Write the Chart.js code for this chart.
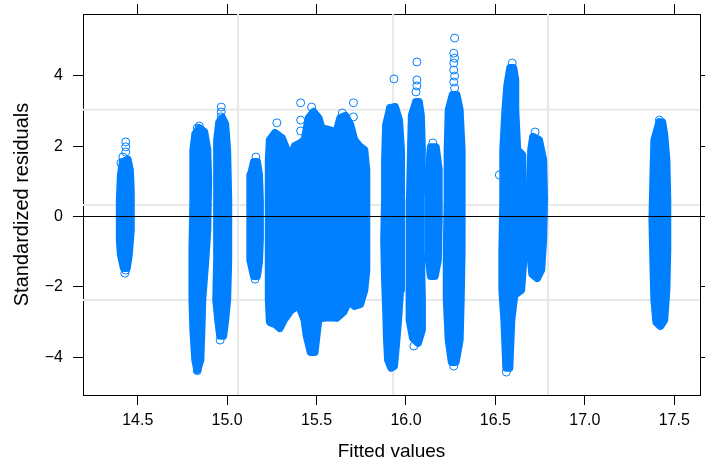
<!DOCTYPE html>
<html>
<head>
<meta charset="utf-8">
<script src="https://cdn.jsdelivr.net/npm/chart.js@4.4.0/dist/chart.umd.min.js"></script>
<style>
  html, body { margin: 0; padding: 0; background: #fff; }
  canvas { display: block; }
</style>
</head>
<body>
<canvas id="chart" width="705" height="463"></canvas>
<script>
// axis ranges and ticks
const fittedRange = [14.194, 17.644];
const residRange = [-5.071, 5.753];
const fittedStep = 0.5;
const residStep = 2;

// light reference grid of the panel
const refFitted = [15.061, 15.928, 16.794];
const refResid = [3.03, 0.33, -2.37];

// each group of fitted values is a dense column of residuals:
// outline of the point cloud (fitted, residual)
const group1 = [[14.417,1.55],[14.406,1.18],[14.400,0.47],[14.400,-0.67],[14.406,-1.09],[14.422,-1.46],[14.439,-1.46],[14.450,-1.09],[14.461,-0.38],[14.461,0.75],[14.456,1.32],[14.444,1.61]];
const group2 = [[14.822,2.34],[14.811,1.89],[14.811,0.47],[14.806,-0.95],[14.806,-2.37],[14.811,-3.22],[14.822,-4.08],[14.833,-4.36],[14.850,-4.08],[14.856,-3.22],[14.861,-2.37],[14.878,-1.24],[14.889,-0.38],[14.894,1.04],[14.889,1.89],[14.872,2.40],[14.844,2.51]];
const group3 = [[14.956,2.68],[14.944,2.17],[14.944,0.47],[14.944,-1.24],[14.939,-2.37],[14.950,-2.94],[14.961,-3.39],[14.978,-3.39],[14.989,-2.94],[15.000,-2.37],[15.006,-1.24],[15.006,0.47],[15.000,1.89],[14.989,2.63],[14.972,2.80]];
const group4 = [[15.150,1.55],[15.133,1.18],[15.128,0.47],[15.128,-0.67],[15.133,-1.24],[15.150,-1.69],[15.167,-1.69],[15.178,-1.29],[15.183,-0.67],[15.183,0.47],[15.178,1.18],[15.167,1.55]];
const group5 = [[15.239,2.17],[15.267,2.37],[15.306,2.23],[15.333,1.89],[15.356,1.61],[15.378,2.00],[15.411,2.09],[15.433,2.17],[15.456,2.80],[15.483,2.97],[15.511,2.80],[15.528,2.51],[15.567,2.46],[15.611,2.40],[15.633,2.80],[15.661,2.86],[15.689,2.60],[15.711,2.17],[15.739,2.00],[15.767,1.89],[15.778,1.32],[15.778,-0.10],[15.778,-1.52],[15.767,-2.09],[15.744,-2.49],[15.711,-2.54],[15.683,-2.37],[15.650,-2.71],[15.611,-2.88],[15.567,-2.86],[15.539,-2.88],[15.511,-2.88],[15.500,-3.37],[15.489,-3.85],[15.467,-3.85],[15.444,-3.37],[15.433,-2.94],[15.400,-2.51],[15.356,-2.66],[15.317,-2.94],[15.294,-3.17],[15.267,-3.05],[15.239,-3.00],[15.233,-2.37],[15.233,-0.95],[15.233,0.47],[15.233,1.61]];
const group6 = [[15.911,3.08],[15.889,2.60],[15.883,1.61],[15.883,0.47],[15.878,-0.67],[15.883,-1.80],[15.889,-2.66],[15.894,-3.51],[15.900,-4.08],[15.917,-4.30],[15.933,-4.25],[15.944,-3.65],[15.956,-2.94],[15.967,-2.09],[15.972,-0.95],[15.972,0.47],[15.972,1.89],[15.961,2.74],[15.939,3.11]];
const group7 = [[16.056,3.25],[16.033,2.88],[16.028,1.89],[16.022,0.47],[16.022,-0.95],[16.017,-2.09],[16.022,-2.94],[16.039,-3.45],[16.067,-3.59],[16.089,-3.22],[16.089,-2.37],[16.083,-0.95],[16.083,0.47],[16.089,1.89],[16.083,2.88],[16.072,3.25]];
const group8 = [[16.139,1.97],[16.128,1.32],[16.128,-0.10],[16.128,-1.24],[16.139,-1.69],[16.161,-1.69],[16.178,-1.24],[16.183,-0.10],[16.183,1.32],[16.167,1.97]];
const group9 = [[16.261,3.45],[16.239,3.03],[16.233,1.89],[16.233,0.47],[16.228,-0.95],[16.228,-2.37],[16.239,-3.51],[16.256,-4.13],[16.278,-4.13],[16.300,-3.51],[16.306,-2.37],[16.311,-0.95],[16.311,0.47],[16.311,1.89],[16.300,3.03],[16.283,3.45]];
const group10 = [[16.583,4.22],[16.567,3.74],[16.556,3.03],[16.544,1.89],[16.544,0.47],[16.539,-0.95],[16.539,-2.09],[16.550,-2.94],[16.556,-3.65],[16.561,-4.30],[16.578,-4.30],[16.583,-3.65],[16.589,-2.94],[16.606,-2.23],[16.644,-2.09],[16.656,-1.24],[16.656,0.47],[16.650,1.75],[16.622,1.89],[16.611,3.03],[16.611,3.88],[16.600,4.22]];
const group11 = [[16.711,2.26],[16.700,1.89],[16.694,0.47],[16.694,-0.95],[16.706,-1.63],[16.733,-1.75],[16.756,-1.52],[16.767,-0.67],[16.772,0.47],[16.767,1.61],[16.744,2.17]];
const group12 = [[17.417,2.68],[17.389,2.17],[17.383,1.04],[17.378,-0.10],[17.383,-1.24],[17.389,-2.37],[17.400,-3.00],[17.422,-3.11],[17.444,-2.94],[17.456,-2.09],[17.461,-0.95],[17.461,0.47],[17.456,1.61],[17.444,2.32],[17.433,2.68]];

const groups = [group1, group2, group3, group4, group5, group6, group7, group8, group9, group10, group11, group12];

// single residuals that stand out at the ends of the columns
const sparseFitted = [14.433,14.433,14.433,14.417,14.406,14.428,14.433, 14.844,14.833,14.833, 14.967,14.967,14.967,14.961, 15.161,15.156,
  15.278,15.411,15.411,15.411,15.472,15.706,15.706,15.644, 15.933, 16.061,16.061,16.061,16.056,16.044, 16.150,
  16.272,16.267,16.272,16.267,16.267,16.272,16.267,16.272,16.267, 16.594,16.522,16.561, 16.722, 17.417,17.428];
const sparseResid = [2.12,1.98,1.83,1.69,1.52,-1.61,-1.52, 2.57,2.51,-4.38, 3.11,2.97,2.83,-3.51, 1.69,-1.78,
  2.66,3.23,2.74,2.43,3.11,3.23,2.83,2.94, 3.91, 4.39,3.88,3.71,3.54,-3.68, 2.09,
  5.07,4.64,4.50,4.36,4.16,3.99,3.82,3.65,-4.25, 4.36,1.18,-4.42, 2.40, 2.74,2.57];

const BLUE = '#0080ff';
const toXY = arr => arr.map(p => ({ x: p[0], y: p[1] }));

const datasets = [];

// zero line on top
datasets.push({
    type: 'line',
    data: [{ x: fittedRange[0], y: 0 }, { x: fittedRange[1], y: 0 }],
    borderColor: '#000', borderWidth: 1, pointRadius: 0, fill: false, order: 0
});

// sparse points
datasets.push({
    type: 'scatter',
    data: sparseFitted.map((x, i) => ({ x: x, y: sparseResid[i] })),
    pointStyle: 'circle',
    pointRadius: 4,
    pointBorderWidth: 1,
    pointBorderColor: BLUE,
    pointBackgroundColor: 'rgba(0,0,0,0)',
    order: 1
});

// dense columns
groups.forEach(g => {
    datasets.push({
        type: 'line',
        data: toXY(g.concat([g[0]])),
        borderColor: BLUE,
        backgroundColor: BLUE,
        borderWidth: 8,
        borderJoinStyle: 'round',
        borderCapStyle: 'round',
        fill: 'shape',
        pointRadius: 0,
        tension: 0,
        order: 2
    });
});

// reference grid
refFitted.forEach(v => {
    datasets.push({
        type: 'line',
        data: [{ x: v, y: residRange[0] }, { x: v, y: residRange[1] }],
        borderColor: '#e8e8e8', borderWidth: 2, pointRadius: 0, fill: false, order: 3
    });
});
refResid.forEach(v => {
    datasets.push({
        type: 'line',
        data: [{ x: fittedRange[0], y: v }, { x: fittedRange[1], y: v }],
        borderColor: '#e8e8e8', borderWidth: 2, pointRadius: 0, fill: false, order: 3
    });
});

const FONT = "'Liberation Sans', Arial, sans-serif";
const tickFont = { family: FONT, size: 16 };
const frame = { display: true, color: '#000', width: 1 };
const outerTicks = { drawOnChartArea: false, drawTicks: true, tickLength: 10, color: '#000', lineWidth: 1 };

// keep the panel box where it is, no extra room for edge labels
function noPadding(s) {
    s.paddingLeft = 0; s.paddingRight = 0; s.paddingTop = 0; s.paddingBottom = 0;
}

const ctx = document.getElementById('chart').getContext('2d');
new Chart(ctx, {
    type: 'scatter',
    data: { datasets: datasets },
    options: {
        responsive: false,
        animation: false,
        layout: { padding: 0 },
        plugins: { legend: { display: false }, tooltip: { enabled: false } },
        scales: {
            x: {
                type: 'linear', position: 'bottom',
                min: fittedRange[0], max: fittedRange[1],
                ticks: { stepSize: fittedStep, includeBounds: false, autoSkip: false, maxRotation: 0,
                    padding: 6, color: '#000', font: tickFont, callback: v => v.toFixed(1) },
                grid: outerTicks, border: frame,
                title: { display: true, text: 'Fitted values', color: '#000',
                    font: { family: FONT, size: 19 }, padding: { top: 0, bottom: 0 } },
                afterFit: s => { s.height = 68; noPadding(s); }
            },
            x2: {
                type: 'linear', position: 'top',
                min: fittedRange[0], max: fittedRange[1],
                ticks: { stepSize: fittedStep, includeBounds: false, autoSkip: false, display: false },
                grid: outerTicks, border: frame,
                afterFit: s => { s.height = 14; noPadding(s); }
            },
            y: {
                type: 'linear', position: 'left',
                min: residRange[0], max: residRange[1],
                ticks: { stepSize: residStep, includeBounds: false, autoSkip: false, padding: 10,
                    color: '#000', font: tickFont,
                    callback: v => v < 0 ? '\u2212' + Math.abs(v) : String(v) },
                grid: outerTicks, border: frame,
                title: { display: true, text: 'Standardized residuals', color: '#000',
                    font: { family: FONT, size: 20 }, padding: { top: 10, bottom: 0 } },
                afterFit: s => { s.width = 83; noPadding(s); }
            },
            y2: {
                type: 'linear', position: 'right',
                min: residRange[0], max: residRange[1],
                ticks: { stepSize: residStep, includeBounds: false, display: false },
                grid: outerTicks, border: frame,
                afterFit: s => { s.width = 1; noPadding(s); }
            }
        }
    }
});
</script>
</body>
</html>
